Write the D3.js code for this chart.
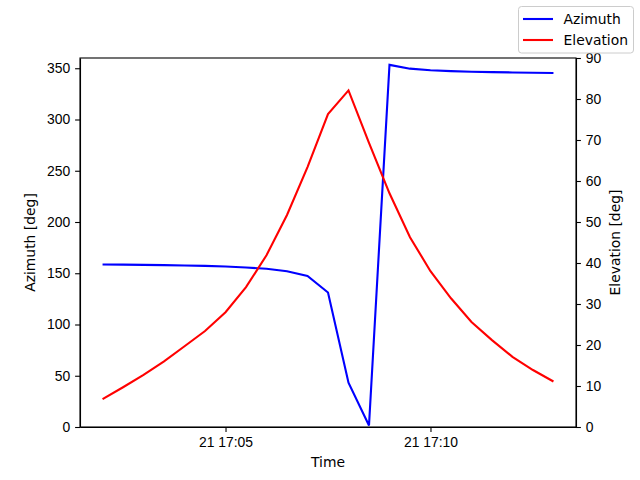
<!DOCTYPE html>
<html>
<head>
<meta charset="utf-8">
<script src="https://cdn.jsdelivr.net/npm/d3@7"></script>
<style>
  body { margin: 0; background: #fff; }
  svg { display: block; font-family: "DejaVu Sans", sans-serif; }
  .axis text { font-size: 13.9px; fill: #000; }
  .axis path, .axis line { stroke: #000; stroke-width: 1.1; }
</style>
</head>
<body>
<svg width="640" height="480"></svg>
<script>
// samples every 30 s starting 17:02:00 on the 21st
const startTime = new Date(2023, 5, 21, 17, 2, 0);
const azimuth = [158.5, 158.4, 158.2, 157.9, 157.6, 157.2, 156.6, 155.6, 154.4, 152.0,
    147.4, 131.2, 43.2, 1.5, 353.3, 349.6, 348.0, 347.2, 346.6, 346.2, 345.9, 345.6, 345.4];
const elevation = [6.8, 9.7, 12.7, 16.0, 19.7, 23.4, 28.0, 34.1, 41.9, 51.7,
    63.4, 76.3, 82.1, 69.3, 57.0, 46.3, 38.0, 31.4, 25.6, 21.2, 17.1, 13.9, 11.1];
const times = azimuth.map((d, i) => new Date(startTime.getTime() + i * 30000));
const xTicks = [new Date(2023, 5, 21, 17, 5, 0), new Date(2023, 5, 21, 17, 10, 0)];
const azTicks = [0, 50, 100, 150, 200, 250, 300, 350];
const elTicks = [0, 10, 20, 30, 40, 50, 60, 70, 80, 90];
const seriesNames = ["Azimuth", "Elevation"];
const seriesColors = ["#0000ff", "#ff0000"];

const svg = d3.select("svg");
const plotLeft = 80, plotRight = 576, plotTop = 58, plotBottom = 427;

const span = times[times.length - 1] - times[0];
const x = d3.scaleTime()
    .domain([new Date(+times[0] - span * 0.05), new Date(+times[times.length - 1] + span * 0.05)])
    .range([plotLeft, plotRight]);
const yAz = d3.scaleLinear().domain([0, 360]).range([plotBottom, plotTop]);
const yEl = d3.scaleLinear().domain([0, 90]).range([plotBottom, plotTop]);

const tickLen = 4.9, tickPad = 4.9;

svg.append("g")
    .attr("class", "axis")
    .attr("transform", `translate(0,${plotBottom})`)
    .call(d3.axisBottom(x).tickValues(xTicks).tickFormat(d3.timeFormat("%d %H:%M"))
        .tickSize(tickLen).tickPadding(tickPad).tickSizeOuter(0));

svg.append("g")
    .attr("class", "axis")
    .attr("transform", `translate(${plotLeft},0)`)
    .call(d3.axisLeft(yAz).tickValues(azTicks).tickSize(tickLen).tickPadding(tickPad).tickSizeOuter(0));

svg.append("g")
    .attr("class", "axis")
    .attr("transform", `translate(${plotRight},0)`)
    .call(d3.axisRight(yEl).tickValues(elTicks).tickSize(tickLen).tickPadding(tickPad).tickSizeOuter(0));

// frame
svg.append("rect")
    .attr("x", plotLeft).attr("y", plotTop)
    .attr("width", plotRight - plotLeft).attr("height", plotBottom - plotTop)
    .attr("fill", "none").attr("stroke", "#000").attr("stroke-width", 1.1);

const azLine = d3.line().x((d, i) => x(times[i])).y(d => yAz(d));
const elLine = d3.line().x((d, i) => x(times[i])).y(d => yEl(d));

svg.append("path").datum(azimuth)
    .attr("d", azLine).attr("fill", "none")
    .attr("stroke", seriesColors[0]).attr("stroke-width", 2.1);
svg.append("path").datum(elevation)
    .attr("d", elLine).attr("fill", "none")
    .attr("stroke", seriesColors[1]).attr("stroke-width", 2.1);

// axis labels
svg.append("text")
    .attr("x", (plotLeft + plotRight) / 2).attr("y", 467)
    .attr("text-anchor", "middle").style("font-size", "13.9px")
    .text("Time");
svg.append("text")
    .attr("transform", `translate(35,${(plotTop + plotBottom) / 2}) rotate(-90)`)
    .attr("text-anchor", "middle").style("font-size", "13.9px")
    .text("Azimuth [deg]");
svg.append("text")
    .attr("transform", `translate(620,${(plotTop + plotBottom) / 2}) rotate(-90)`)
    .attr("text-anchor", "middle").style("font-size", "13.9px")
    .text("Elevation [deg]");

// figure legend, upper right
const legend = svg.append("g").attr("transform", "translate(518.5,6.5)");
legend.append("rect")
    .attr("width", 115).attr("height", 46.5).attr("rx", 3)
    .attr("fill", "#fff").attr("fill-opacity", 0.8)
    .attr("stroke", "#cccccc").attr("stroke-width", 1);
const item = legend.selectAll("g.item")
    .data(seriesNames)
    .enter().append("g")
    .attr("class", "item")
    .attr("transform", (d, i) => `translate(0,${12.5 + i * 21})`);
item.append("line")
    .attr("x1", 4.5).attr("x2", 34.5)
    .attr("stroke", (d, i) => seriesColors[i]).attr("stroke-width", 2.1);
item.append("text")
    .attr("x", 45).attr("dy", "0.35em")
    .style("font-size", "13.9px")
    .text(d => d);
</script>
</body>
</html>
